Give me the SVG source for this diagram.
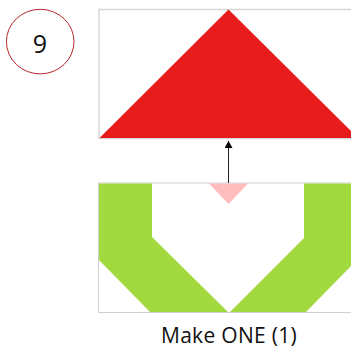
<svg xmlns="http://www.w3.org/2000/svg" width="351" height="347" viewBox="0 0 351 347">
<style>
.frame{fill:#fff;stroke:#d6d6d6;stroke-width:1.5}
.t{font-family:"Open Sans","Noto Sans","Liberation Sans",sans-serif;fill:#111}
</style>
<defs><marker id="a" markerUnits="userSpaceOnUse" markerWidth="8" markerHeight="8" refX="7" refY="4" orient="auto"><path d="M0,0L7,4L0,8Z" fill="#000"/></marker></defs>
<rect width="351" height="347" fill="#fff"/>
<g id="badge"><ellipse cx="40.200" cy="41.600" rx="33.800" ry="32.300" fill="#fff" stroke="#b8272c" stroke-width="1"/><text class="t" x="40" y="53" font-size="25" text-anchor="middle">9</text></g>
<g id="top-panel"><rect class="frame" x="99" y="9.500" width="254" height="129"/><path d="M228.500,9.500L99.500,138H358L228.500,9.500Z" fill="#e81c1c"/></g>
<g id="bottom-panel"><rect x="98.500" y="183" width="254" height="129.500" fill="#fff" stroke="#d0d0d0" stroke-width="1"/>
<path d="M99,183.500H152V237L228,312H150L99,260Z" fill="#a2d93f"/>
<path d="M304,183.500H351V266L306,312H230L304,238Z" fill="#a2d93f"/>
<path d="M209,183.500H248L228.500,204Z" fill="#ffbcbc"/></g>
<g id="connectors"><line x1="228.500" y1="183" x2="228.500" y2="141" stroke="#222" stroke-width="1" marker-end="url(#a)"/></g>
<g id="caption"><text class="t" x="229" y="342.500" font-size="21" letter-spacing="0.3" text-anchor="middle">Make ONE (1)</text></g>
</svg>
